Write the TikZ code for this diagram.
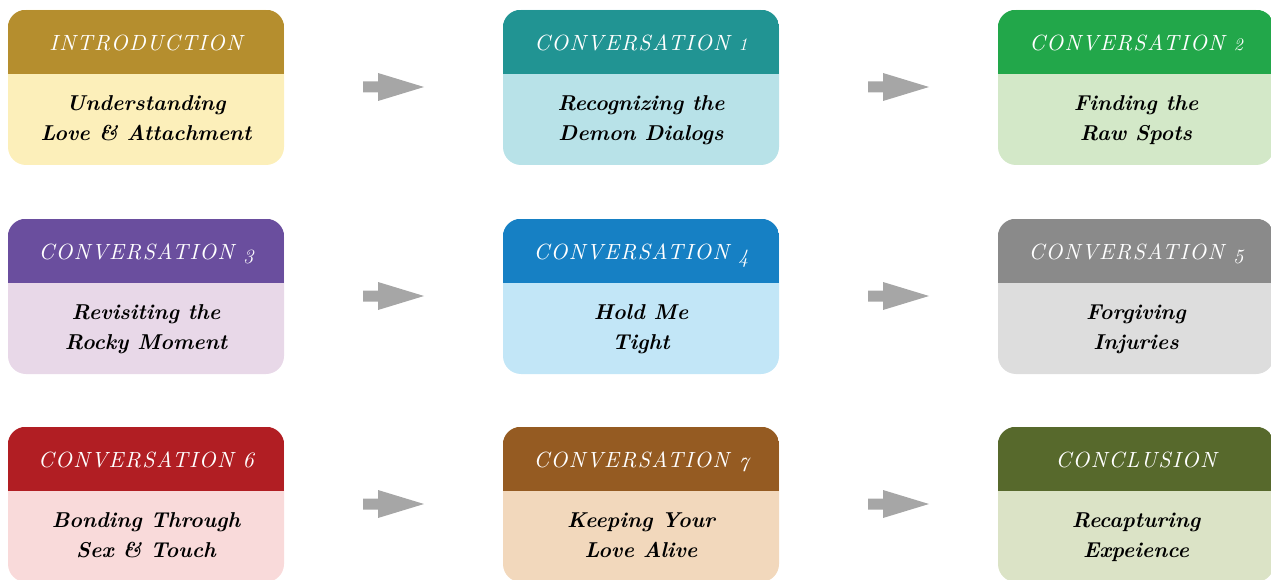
\documentclass[tikz,border=0pt]{standalone}
\usepackage{fontspec}
\usetikzlibrary{calc}
\newfontfamily\hdrfont{lmroman10-italic.otf}[LetterSpace=6]
\newcommand{\osx}[1]{\scalebox{0.8}{#1}}
\newcommand{\osd}[1]{\raisebox{-0.17em}{\scalebox{0.92}{#1}}}
\definecolor{h1}{HTML}{B58E2E}\definecolor{b1}{HTML}{FCEFBA}
\definecolor{h2}{HTML}{219493}\definecolor{b2}{HTML}{B8E2E8}
\definecolor{h3}{HTML}{22A74A}\definecolor{b3}{HTML}{D3E8C8}
\definecolor{h4}{HTML}{6A4E9E}\definecolor{b4}{HTML}{E8D8E8}
\definecolor{h5}{HTML}{1680C4}\definecolor{b5}{HTML}{C2E6F7}
\definecolor{h6}{HTML}{8A8A8A}\definecolor{b6}{HTML}{DDDDDD}
\definecolor{h7}{HTML}{B11E23}\definecolor{b7}{HTML}{F9DADA}
\definecolor{h8}{HTML}{955B22}\definecolor{b8}{HTML}{F2D8BC}
\definecolor{h9}{HTML}{57692C}\definecolor{b9}{HTML}{DBE3C6}
\definecolor{arrcol}{HTML}{A6A6A6}
\tikzset{
  stagebox/.style={rectangle, rounded corners=18pt, minimum width=276pt, minimum height=155pt, inner sep=0pt},
  hdrtext/.style={text=white, anchor=base, font=\hdrfont\fontsize{22}{24}\selectfont, inner sep=0pt},
  bodytext/.style={text=black, align=center, anchor=base, font=\fontsize{21.5}{30}\selectfont\bfseries\itshape, inner sep=0pt},
}
% #1 name, #2 x center, #3 y top, #4 header colour, #5 body colour, #6 title, #7 line 1, #8 line 2
\newcommand{\stagecard}[8]{%
  \node[stagebox, fill=#5] (#1) at (#2, #3+77.5) {};
  \begin{scope}
    \clip[rounded corners=18pt] (#1.north west) rectangle (#1.south east);
    \fill[#4] (#1.north west) rectangle ([yshift=-64pt]#1.north east);
  \end{scope}
  \node[hdrtext] (#1h) at ([yshift=-41pt]#1.north) {#6};
  \node[bodytext] (#1t) at ([yshift=-100.5pt]#1.north) {#7};
  \node[bodytext] (#1u) at ([yshift=-130.5pt]#1.north) {#8};
}
% #1 name, #2 from, #3 to, #4 horizontal offset from midpoint
\newcommand{\flowarrow}[4]{%
  \coordinate (#1) at ($(#2.east)!0.5!(#3.west)+(#4,-0.5)$);
  \fill[arrcol] ([shift={(-30.5,5.5)}]#1) -- ([shift={(-15.5,5.5)}]#1) -- ([shift={(-15.5,14)}]#1)
    -- ([shift={(30.5,0)}]#1) -- ([shift={(-15.5,-14)}]#1) -- ([shift={(-15.5,-5.5)}]#1)
    -- ([shift={(-30.5,-5.5)}]#1) -- cycle;
}
\begin{document}
\begin{tikzpicture}[x=1pt,y=-1pt]
\useasboundingbox (0,0) rectangle (1271,580);
\stagecard{s1}{146}{10}{h1}{b1}{INTRODUCTION}{Understanding}{Love \& Attachment}
\stagecard{s2}{641}{10}{h2}{b2}{CONVERSATION \osx{1}}{Recognizing the}{Demon Dialogs}
\stagecard{s3}{1136}{10}{h3}{b3}{CONVERSATION \osx{2}}{Finding the}{Raw Spots}
\stagecard{s4}{146}{219}{h4}{b4}{CONVERSATION \osd{3}}{Revisiting the}{Rocky Moment}
\stagecard{s5}{641}{219}{h5}{b5}{CONVERSATION \osd{4}}{Hold Me}{Tight}
\stagecard{s6}{1136}{219}{h6}{b6}{CONVERSATION \osd{5}}{Forgiving}{Injuries}
\stagecard{s7}{146}{427}{h7}{b7}{CONVERSATION 6}{Bonding Through}{Sex \& Touch}
\stagecard{s8}{641}{427}{h8}{b8}{CONVERSATION \osd{7}}{Keeping Your}{Love Alive}
\stagecard{s9}{1136}{427}{h9}{b9}{CONCLUSION}{Recapturing}{Expeience}
\flowarrow{a1}{s1}{s2}{0}
\flowarrow{a2}{s2}{s3}{10}
\flowarrow{a3}{s4}{s5}{0}
\flowarrow{a4}{s5}{s6}{10}
\flowarrow{a5}{s7}{s8}{0}
\flowarrow{a6}{s8}{s9}{10}
\end{tikzpicture}
\end{document}
